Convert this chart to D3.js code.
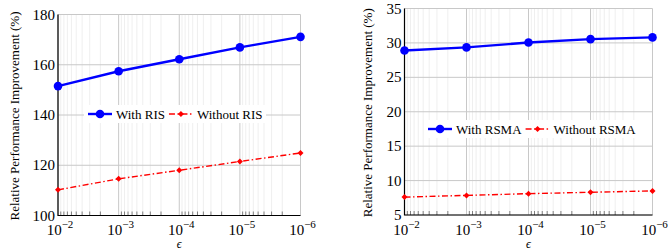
<!DOCTYPE html>
<html>
<head>
<meta charset="utf-8">
<script src="https://cdn.jsdelivr.net/npm/d3@7"></script>
<style>
  body { margin: 0; background: #fff; }
</style>
</head>
<body>
<div id="chart"></div>
<script>
// data
const epsilon = [1e-2, 1e-3, 1e-4, 1e-5, 1e-6];
const xTickExp = [-2, -3, -4, -5, -6];

const withRIS = [151.5, 157.4, 162.2, 166.9, 171.1];
const withoutRIS = [110.2, 114.6, 118.0, 121.5, 124.9];
const risTicks = [100, 120, 140, 160, 180];

const withRSMA = [28.9, 29.35, 30.05, 30.55, 30.8];
const withoutRSMA = [7.6, 7.85, 8.1, 8.3, 8.5];
const rsmaTicks = [5, 10, 15, 20, 25, 30, 35];

const svg = d3.select('#chart').append('svg')
    .attr('width', 668).attr('height', 251);

function panel(cfg) {
    const g = svg.append('g');
    const x = d3.scaleLog().domain([1e-2, 1e-6]).range([cfg.left, cfg.right]);
    const y = d3.scaleLinear().domain(cfg.yDomain).range([cfg.bottom, cfg.top]);

    // minor grid (2..9 x 10^k)
    const minor = [];
    for (let k = -3; k >= -6; k--) {
        for (let m = 2; m <= 9; m++) minor.push(m * Math.pow(10, k));
    }
    g.append('g').selectAll('line').data(minor).join('line')
        .attr('x1', d => x(d)).attr('x2', d => x(d))
        .attr('y1', cfg.top).attr('y2', cfg.bottom)
        .attr('stroke', '#ebebeb').attr('stroke-width', 0.8);

    // major grid
    g.append('g').selectAll('line').data(epsilon).join('line')
        .attr('x1', d => x(d)).attr('x2', d => x(d))
        .attr('y1', cfg.top).attr('y2', cfg.bottom)
        .attr('stroke', '#c8c8c8').attr('stroke-width', 1);
    g.append('g').selectAll('line').data(cfg.yTicks).join('line')
        .attr('x1', cfg.left).attr('x2', cfg.right)
        .attr('y1', d => y(d)).attr('y2', d => y(d))
        .attr('stroke', '#c8c8c8').attr('stroke-width', 1);

    // minor ticks on the bottom axis
    g.append('g').selectAll('line').data(minor).join('line')
        .attr('x1', d => x(d)).attr('x2', d => x(d))
        .attr('y1', cfg.bottom).attr('y2', cfg.bottom - 4)
        .attr('stroke', '#333').attr('stroke-width', 0.6);

    // axis lines (left + bottom)
    g.append('path')
        .attr('d', `M${cfg.left},${cfg.top}V${cfg.bottom}H${cfg.right}`)
        .attr('fill', 'none').attr('stroke', '#000').attr('stroke-width', 1.2);

    // y tick labels
    g.append('g').selectAll('text').data(cfg.yTicks).join('text')
        .attr('x', cfg.left - 3).attr('y', d => y(d) + 5)
        .attr('text-anchor', 'end').attr('font-size', 15)
        .text(d => d);

    // x tick labels 10^k
    const xl = g.append('g').selectAll('text').data(xTickExp).join('text')
        .attr('x', (d, i) => x(epsilon[i]) + 2).attr('y', 235)
        .attr('text-anchor', 'middle').attr('font-size', 15);
    xl.append('tspan').text('10');
    xl.append('tspan').attr('dy', -7).attr('font-size', 11).text(d => '\u2212' + (-d));

    // axis titles
    g.append('text')
        .attr('x', (cfg.left + cfg.right) / 2).attr('y', 248)
        .attr('text-anchor', 'middle').attr('font-size', 12).attr('font-style', 'italic')
        .text('\u03f5');
    g.append('text')
        .attr('transform', `translate(${cfg.yLabelX},${(cfg.top + cfg.bottom) / 2 + 1}) rotate(-90)`)
        .attr('text-anchor', 'middle').attr('font-size', 13)
        .text('Relative Performance Improvement (%)');

    const line = d3.line().x((d, i) => x(epsilon[i])).y(d => y(d));

    // with series (blue, solid, big dots)
    g.append('path').datum(cfg.withData).attr('d', line)
        .attr('fill', 'none').attr('stroke', '#0000ff').attr('stroke-width', 2.4);
    g.append('g').selectAll('circle').data(cfg.withData).join('circle')
        .attr('cx', (d, i) => x(epsilon[i])).attr('cy', d => y(d)).attr('r', 4.3)
        .attr('fill', '#0000ff');

    // without series (red, dash-dot, small diamonds)
    g.append('path').datum(cfg.withoutData).attr('d', line)
        .attr('fill', 'none').attr('stroke', '#ff0000').attr('stroke-width', 1.4)
        .attr('stroke-dasharray', '6 2.5 1.5 2.5');
    g.append('g').selectAll('path.dm').data(cfg.withoutData).join('path')
        .attr('class', 'dm')
        .attr('d', (d, i) => {
            const cx = x(epsilon[i]), cy = y(d), s = 3;
            return `M${cx},${cy - s}L${cx + s},${cy}L${cx},${cy + s}L${cx - s},${cy}Z`;
        })
        .attr('fill', '#ff0000');

    // legend
    const lg = g.append('g').attr('transform', `translate(${cfg.legX},${cfg.legY})`);
    lg.append('rect').attr('x', 0).attr('y', -9).attr('width', cfg.legW).attr('height', 18)
        .attr('fill', '#fff');
    lg.append('line').attr('x1', 4).attr('x2', 28).attr('y1', 0).attr('y2', 0)
        .attr('stroke', '#0000ff').attr('stroke-width', 2.4);
    lg.append('circle').attr('cx', 16).attr('cy', 0).attr('r', 4.3).attr('fill', '#0000ff');
    const t1 = lg.append('text').attr('x', 32).attr('y', 4.5).attr('font-size', 13)
        .attr('font-family', 'Liberation Serif')
        .text(cfg.names[0]);
    const w1 = t1.node().getComputedTextLength();
    const ox = 32 + w1 + 4;
    lg.append('line').attr('x1', ox).attr('x2', ox + 24).attr('y1', 0).attr('y2', 0)
        .attr('stroke', '#ff0000').attr('stroke-width', 1.4)
        .attr('stroke-dasharray', '6 2.5 1.5 2.5');
    lg.append('path')
        .attr('d', `M${ox + 12},-3L${ox + 15},0L${ox + 12},3L${ox + 9},0Z`)
        .attr('fill', '#ff0000');
    lg.append('text').attr('x', ox + 28).attr('y', 4.5).attr('font-size', 13)
        .text(cfg.names[1]);

    // Times-like font on every label
    g.selectAll('text').attr('font-family', 'Liberation Serif');
}

panel({
    left: 58, right: 300.5, top: 14.5, bottom: 215.5,
    yDomain: [100, 180], yTicks: risTicks,
    withData: withRIS, withoutData: withoutRIS,
    names: ['With RIS', 'Without RIS'],
    legX: 84, legY: 114, legW: 182, yLabelX: 18.5
});

panel({
    left: 404.5, right: 652.5, top: 8.5, bottom: 215,
    yDomain: [5, 35], yTicks: rsmaTicks,
    withData: withRSMA, withoutData: withoutRSMA,
    names: ['With RSMA', 'Without RSMA'],
    legX: 424, legY: 129, legW: 216, yLabelX: 372
});
</script>
</body>
</html>
